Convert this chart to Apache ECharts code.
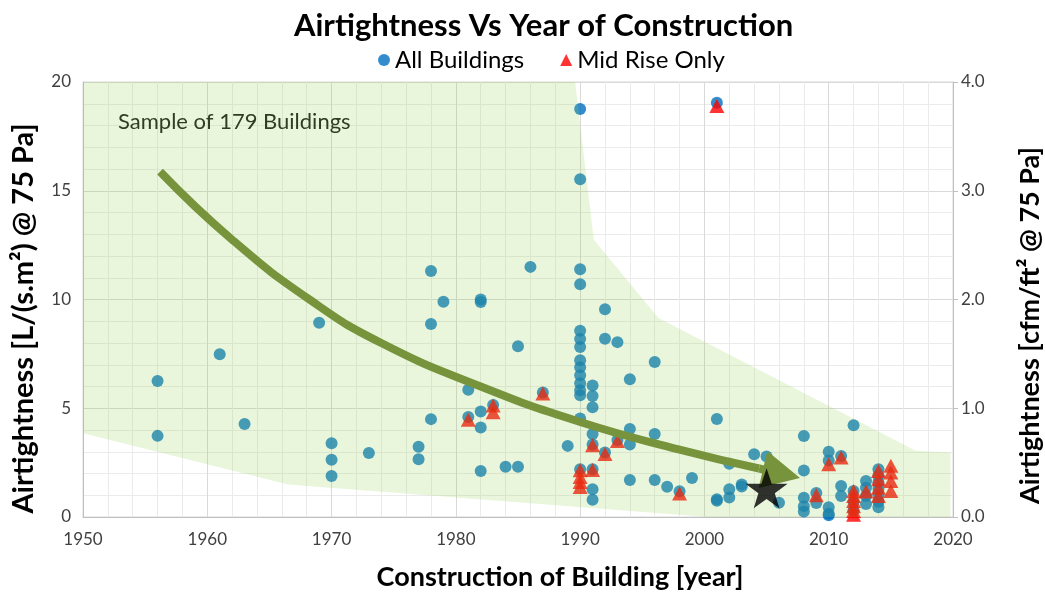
<!DOCTYPE html>
<html>
<head>
<meta charset="utf-8">
<script src="https://cdn.jsdelivr.net/npm/echarts@6/dist/echarts.min.js"></script>
<style>
  html, body { margin: 0; padding: 0; background: #fff; }
  #chart { width: 1045px; height: 595px; }
</style>
</head>
<body>
<div id="chart"></div>
<script>
// [year, L/(s.m2) @ 75 Pa]
const allBuildings = [
  [1956, 6.25], [1956, 3.73], [1961, 7.48], [1963, 4.28], [1969, 8.93],
  [1970, 3.39], [1970, 2.63], [1970, 1.88], [1973, 2.94],
  [1977, 3.23], [1977, 2.66], [1978, 11.31], [1978, 8.87], [1978, 4.5], [1979, 9.9],
  [1981, 5.85], [1981, 4.6], [1982, 10.0], [1982, 9.88], [1982, 4.85], [1982, 4.12], [1982, 2.12],
  [1983, 5.15], [1984, 2.31], [1985, 7.85], [1985, 2.31], [1986, 11.5], [1987, 5.72], [1989, 3.27],
  [1990, 18.76], [1990, 15.53], [1990, 11.39], [1990, 10.7], [1990, 8.56], [1990, 8.18], [1990, 7.82],
  [1990, 7.21], [1990, 6.89], [1990, 6.52], [1990, 6.15], [1990, 5.83], [1990, 5.6], [1990, 4.53], [1990, 2.2],
  [1991, 6.05], [1991, 5.56], [1991, 5.05], [1991, 3.82], [1991, 3.33], [1991, 2.2], [1991, 1.28], [1991, 0.79],
  [1992, 9.55], [1992, 8.2], [1992, 2.97], [1993, 8.04], [1993, 3.54],
  [1994, 6.33], [1994, 4.05], [1994, 3.33], [1994, 1.7],
  [1996, 7.13], [1996, 3.82], [1996, 1.7], [1997, 1.39], [1998, 1.18], [1999, 1.79],
  [2001, 19.05], [2001, 4.51], [2001, 0.82], [2001, 0.75],
  [2002, 2.45], [2002, 1.28], [2002, 0.9], [2003, 1.5], [2003, 1.4],
  [2004, 2.88], [2005, 2.78], [2006, 0.66],
  [2008, 3.72], [2008, 2.14], [2008, 0.88], [2008, 0.5], [2008, 0.25],
  [2009, 1.1], [2009, 0.64],
  [2010, 3.0], [2010, 2.6], [2010, 0.45], [2010, 0.15], [2010, 0.08],
  [2011, 2.8], [2011, 1.43], [2011, 0.97],
  [2012, 4.22], [2012, 1.2], [2012, 0.7], [2012, 0.3],
  [2013, 1.66], [2013, 1.35], [2013, 0.97], [2013, 0.6],
  [2014, 2.2], [2014, 1.9], [2014, 1.6], [2014, 1.3], [2014, 1.0], [2014, 0.7], [2014, 0.45]
];

const midRise = [
  [1981, 4.47], [1983, 5.13], [1983, 4.82], [1987, 5.68],
  [1990, 2.15], [1990, 1.84], [1990, 1.61], [1990, 1.38],
  [1991, 3.3], [1991, 2.16], [1992, 2.9], [1993, 3.5], [1998, 1.08],
  [2001, 18.9], [2009, 1.0], [2010, 2.43], [2011, 2.74],
  [2012, 1.2], [2012, 0.97], [2012, 0.74], [2012, 0.5], [2012, 0.28], [2012, 0.1],
  [2013, 1.17],
  [2014, 2.12], [2014, 1.74], [2014, 1.35], [2014, 0.97],
  [2015, 2.36], [2015, 2.05], [2015, 1.66], [2015, 1.2]
];

// hand-drawn trend arrow
const trendLine = [
  [1956.2, 15.88], [1962, 12.75], [1968.3, 9.97], [1974, 8.0],
  [1982, 6.0], [1990, 4.37], [1998, 3.1], [2004.4, 2.23]
];
const arrowHead = [[2004.4, 2.23], [2006.2, 1.99]];
const starPoint = [[2005, 1.32]];

// shaded envelope of the sample
const bandPoly = [
  [1950, 20], [1989.6, 20], [1991.1, 12.75], [1996.3, 9.15], [2017, 3.05], [2019.8, 2.96],
  [2019.8, 0], [2000.3, 0], [1966.5, 1.5], [1950, 3.85]
];

const yTicksRight = [0, 1, 2, 3, 4];

const FONT = 'Lato';
const STAR = 'path://M50,0L61.8,35.1L98.1,35.1L68.8,56.7L79.4,90.5L50,69.5L20.6,90.5L31.2,56.7L1.9,35.1L38.2,35.1Z';

const chart = echarts.init(document.getElementById('chart'));

chart.setOption({
  animation: false,
  textStyle: { fontFamily: FONT },
  title: {
    text: 'Airtightness Vs Year of Construction',
    left: 289,
    top: 5,
    textStyle: { fontFamily: FONT, fontSize: 31, fontWeight: 'bold', color: '#000' }
  },
  legend: {
    top: 43,
    left: 373,
    itemGap: 36,
    itemWidth: 12,
    itemHeight: 12,
    textStyle: { fontFamily: FONT, fontSize: 24, color: '#000' },
    data: [
      { name: 'All Buildings', icon: 'circle' },
      { name: 'Mid Rise Only', icon: 'triangle' }
    ]
  },
  grid: {
    left: 83, right: 92, top: 82, bottom: 78,
    outerBoundsMode: 'none',
    containLabel: false,
    show: true, borderColor: '#d9d9d9', borderWidth: 1
  },
  graphic: [{
    type: 'text',
    left: 118,
    top: 111,
    style: { text: 'Sample of 179 Buildings', font: '22px Lato', fill: '#2f3d21' },
    z: 10
  }],
  xAxis: {
    type: 'value',
    min: 1950, max: 2020, interval: 10,
    name: 'Construction of Building [year]',
    nameLocation: 'middle',
    nameGap: 47,
    nameTextStyle: { fontFamily: FONT, fontSize: 27, fontWeight: 'bold', color: '#000', padding: [0, 0, 0, 84] },
    axisLine: { lineStyle: { color: '#bfbfbf' } },
    axisTick: { show: false },
    axisLabel: { fontSize: 17, color: '#404040', margin: 14, formatter: v => String(v) },
    splitLine: { lineStyle: { color: '#d9d9d9' } },
    minorTick: { show: false, splitNumber: 5 },
    minorSplitLine: { show: true, lineStyle: { color: '#ebebeb' } }
  },
  yAxis: [{
    type: 'value',
    min: 0, max: 20, interval: 5,
    name: 'Airtightness [L/(s.m²) @ 75 Pa]',
    nameLocation: 'middle',
    nameRotate: 90,
    nameGap: 45,
    nameTextStyle: { fontFamily: FONT, fontSize: 29, fontWeight: 'bold', color: '#000', padding: [0, 38, 0, 0] },
    axisLine: { show: true, lineStyle: { color: '#bfbfbf' } },
    axisTick: { show: false },
    axisLabel: { fontSize: 17, color: '#404040', margin: 12 },
    splitLine: { lineStyle: { color: '#d9d9d9' } },
    minorTick: { show: false, splitNumber: 5 },
    minorSplitLine: { show: true, lineStyle: { color: '#ebebeb' } }
  }, {
    type: 'value',
    position: 'right',
    min: yTicksRight[0], max: yTicksRight[yTicksRight.length - 1], interval: 1,
    name: 'Airtightness [cfm/ft² @ 75 Pa]',
    nameLocation: 'middle',
    nameRotate: 90,
    nameGap: 64,
    nameTextStyle: { fontFamily: FONT, fontSize: 27, fontWeight: 'bold', color: '#000', padding: [0, 52, 0, 0] },
    axisLine: { show: true, lineStyle: { color: '#bfbfbf' } },
    axisTick: { show: true, length: 5, lineStyle: { color: '#bfbfbf' } },
    axisLabel: { fontSize: 17, color: '#404040', margin: 8, formatter: v => v.toFixed(1) },
    splitLine: { show: false }
  }],
  series: [
    {
      name: 'All Buildings',
      type: 'scatter',
      data: allBuildings,
      symbol: 'circle',
      symbolSize: 12,
      itemStyle: { color: '#0070C0' },
      z: 2
    },
    {
      name: 'Mid Rise Only',
      type: 'scatter',
      data: midRise,
      symbol: 'triangle',
      symbolSize: [15, 14],
      itemStyle: { color: '#FF0000' },
      z: 2
    },
    {
      type: 'custom',
      silent: true,
      clip: true,
      data: [[1950, 0]],
      renderItem: (params, api) => ({
        type: 'polygon',
        shape: { points: bandPoly.map(p => api.coord(p)) },
        style: { fill: 'rgba(146,208,80,0.2)' }
      }),
      z: 3
    },
    {
      type: 'line',
      data: trendLine,
      smooth: 0.5,
      symbol: 'none',
      lineStyle: { color: '#77933C', width: 8 },
      z: 4
    },
    {
      type: 'lines',
      coordinateSystem: 'cartesian2d',
      data: [{ coords: arrowHead }],
      symbol: ['none', 'triangle'],
      symbolSize: [30, 38],
      lineStyle: { color: '#77933C', width: 8, opacity: 1 },
      z: 4
    },
    {
      type: 'scatter',
      data: starPoint,
      symbol: STAR,
      symbolSize: [42, 40],
      itemStyle: { color: '#000' },
      z: 5
    }
  ]
});
</script>
</body>
</html>
